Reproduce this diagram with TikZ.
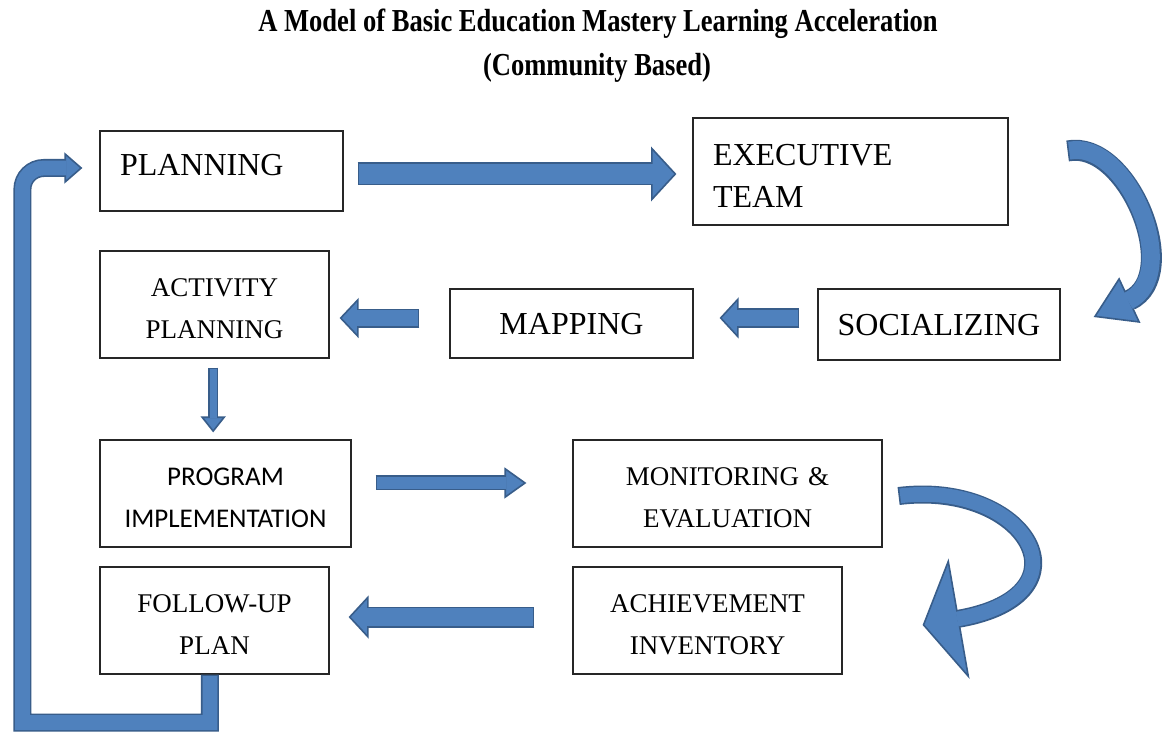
\documentclass[tikz,border=0pt]{standalone}
\usepackage{fontspec}
\setmainfont{Liberation Serif}
\newfontfamily\calibrifont{Carlito}
\usepackage{graphicx}
\usetikzlibrary{arrows.meta, calc}
\definecolor{arrowfill}{HTML}{4F81BD}
\definecolor{arrowedge}{HTML}{385D8A}
\tikzset{
  box/.style={draw=black!85, line width=0.9pt, fill=white, inner sep=0pt, align=center,
    font=\fontsize{20.25}{31.5}\selectfont, text height=19.5pt},
  bigbox/.style={box, font=\fontsize{24}{31.5}\selectfont, text height=16pt},
  blockarrow/.style n args={3}{draw=arrowedge, line width=#1,
    -{Triangle[width=#2, length=#3, line width=1.2pt, fill=arrowfill]},
    postaction={draw=arrowfill, line width=#1-2.4pt, -, shorten >=#3-1.5pt, shorten <=1.2pt}},
}

\begin{document}
\begin{tikzpicture}[x=0.75pt, y=-0.75pt]
        \fill[white] (0,0) rectangle (1162,734);
        \useasboundingbox (0,0) rectangle (1162,734);
        % Title
        \node (title) at (598,24) {\scalebox{0.83}[1]{\bfseries\fontsize{24}{28}\selectfont A Model of Basic Education Mastery Learning Acceleration}};
        \node (subtitle) at (597,68) {\scalebox{0.83}[1]{\bfseries\fontsize{24}{28}\selectfont (Community Based)}};
        % Boxes
        \node[bigbox, minimum width=182.25pt, minimum height=60pt, text width=152.25pt, align=left, text depth=9pt] (plan) at (221.5,171) {PLANNING};
        \node[bigbox, minimum width=236.25pt, minimum height=80.25pt, text width=206.25pt, align=left, text height=21.9pt] (exec) at (850.5,171.5) {EXECUTIVE\\TEAM};
        \node[box, text width=171.75pt, minimum height=80.25pt] (act) at (214.5,304.5) {ACTIVITY\\PLANNING};
        \node[bigbox, minimum width=182.25pt, minimum height=51.75pt] (map) at (571.5,323.5) {MAPPING};
        \node[bigbox, minimum width=181.5pt, minimum height=53.25pt] (soc) at (939,324.5) {SOCIALIZING};
        \node[box, text width=188.25pt, minimum height=80.25pt, font=\calibrifont\fontsize{20.25}{31.5}\selectfont] (prog) at (225.5,493.5) {PROGRAM\\IMPLEMENTATION};
        \node[box, text width=231.75pt, minimum height=80.25pt] (mon) at (727.5,493.5) {MONITORING \&\\EVALUATION};
        \node[box, text width=171.75pt, minimum height=80.25pt] (fup) at (214.5,620.5) {FOLLOW-UP\\PLAN};
        \node[box, text width=201.75pt, minimum height=80.25pt] (ach) at (707.5,620.5) {ACHIEVEMENT\\INVENTORY};
        % Straight arrows
        \draw[blockarrow={17.25pt}{41pt}{19pt}] ($(plan.east)+(10.5pt,-2.25pt)$) -- ($(plan.east -| exec.west)+(-12pt,-2.25pt)$);
        \draw[blockarrow={15pt}{30.75pt}{14.25pt}] ($(soc.west)+(-13.5pt,4.9pt)$) -- ($(soc.west -| map.east)+(19.5pt,4.9pt)$);
        \draw[blockarrow={14.25pt}{30pt}{14.25pt}] ($(map.west)+(-22.5pt,4.1pt)$) -- ($(map.west -| act.east)+(7.5pt,4.1pt)$);
        \draw[blockarrow={7.5pt}{18.75pt}{12pt}] ($(act.south)+(-1pt,-6.75pt)$) -- ($(act.south |- prog.north)+(-1pt,5.25pt)$);
        \draw[blockarrow={11.25pt}{23.25pt}{16.5pt}] ($(prog.east)+(18pt,7.9pt)$) -- ($(prog.east -| mon.west)+(-34.5pt,7.9pt)$);
        \draw[blockarrow={15.75pt}{32.25pt}{15pt}] ($(ach.west)+(-28.5pt,2.6pt)$) -- ($(ach.west -| fup.east)+(14.25pt,2.6pt)$);
        % Curved arrows
        \draw[blockarrow={15.75pt}{37.5pt}{30pt}] ($(exec.east)+(44.25pt,15.4pt)$) .. controls +(60,-12) and +(90,-42) .. ($(soc.east)+(24.75pt,5.6pt)$);
        \draw[blockarrow={13.5pt}{91.5pt}{27.75pt}] ($(mon.east)+(12pt,-1.9pt)$) .. controls +(128,-16) and +(172,-30) .. ($(ach.east)+(60pt,-3.4pt)$);
        % Feedback loop
        \coordinate (loopbend) at ($(plan.west)+(-57.75pt,2.25pt)$);
        \draw[blockarrow={13.5pt}{23.25pt}{13.5pt}] ($(fup.south)+(-3.4pt,0)$) |- ($(loopbend |- fup.south)+(0,-36pt)$) [rounded corners=16pt] -- (loopbend) -- ($(plan.west)+(-12.75pt,2.25pt)$);
    \end{tikzpicture}
\end{document}
